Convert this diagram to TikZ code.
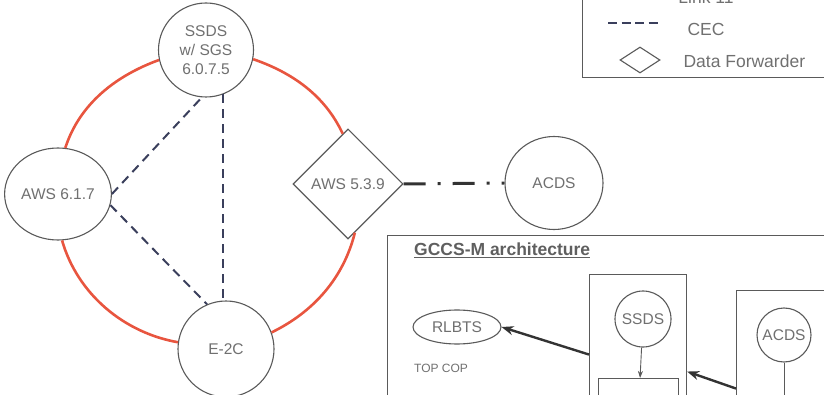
\documentclass[tikz,border=0pt]{standalone}
\usepackage{fontspec}
\setmainfont{Liberation Sans}
\usepackage{tikz}
\usetikzlibrary{arrows.meta,positioning,shapes.geometric,calc}
\definecolor{txtgray}{HTML}{707070}
\definecolor{edgegray}{HTML}{5A5A5A}
\definecolor{ringred}{HTML}{E8553F}
\definecolor{cecblue}{HTML}{3A3F5C}

\begin{document}
\begin{tikzpicture}[
  x=1pt, y=1pt,
  font=\fontsize{15.5}{19}\selectfont,
  station/.style={ellipse, draw=edgegray, fill=white, line width=1.1pt,
                  text=txtgray, align=center, inner sep=1pt},
  fwd/.style={diamond, draw=edgegray, fill=white, line width=1.1pt,
              text=txtgray, inner sep=0pt, aspect=1},
  frame/.style={draw=edgegray, line width=1.1pt, inner sep=0pt},
  ring/.style={draw=ringred, line width=2.6pt, looseness=0.92},
  cec/.style={draw=cecblue, line width=2pt, dash pattern=on 9pt off 6pt},
  link/.style={draw=black!80, line width=3pt, dash pattern=on 22pt off 12pt on 3pt off 12pt},
  flow/.style={-{Stealth[length=12pt,width=9pt]}, line width=2.4pt, draw=black!80},
  lbl/.style={text=txtgray, font=\fontsize{17.5}{20}\selectfont}
]
\useasboundingbox (0,0) rectangle (824,-395);
\clip (0,0) rectangle (824,-395);

% ring of stations
\node[station, minimum width=95pt, minimum height=94pt] (ssds)   at (206,-50)  {SSDS\\w/ SGS\\6.0.7.5};
\node[station, minimum width=100pt, minimum height=92pt] (aws617) at (58,-194)  {AWS 6.1.7};
\node[station, minimum width=96pt, minimum height=96pt] (e2c)    at (226,-349) {E-2C};
\node[fwd, minimum width=110pt, minimum height=110pt]   (aws539) at (348,-184) {AWS 5.3.9};
\node[station, minimum width=98pt, minimum height=93pt] (acds)   at (554,-183) {ACDS};

\draw[ring] (ssds.192) to[out=200, in=72] (aws617.81);
\draw[ring] (aws617.-85) to[out=286, in=170] (e2c.172);
\draw[ring] (e2c.20) to[out=26, in=256] (aws539.-82);
\draw[ring] (aws539.96) to[out=115, in=341] (ssds.-11);

\draw[cec] (aws617.east) -- (ssds.-95);
\draw[cec] (aws617.-12) -- (e2c.113);
\draw[cec] (ssds.-69) -- (ssds.-69 |- e2c.north);
\draw[link] (aws539.east) -- (acds.west);

% legend
\node[frame, minimum width=260pt, minimum height=100pt, anchor=south west] (legend) at (582,-78) {};
\node[lbl] (lk11) at (706,2.5) {Link 11};
\coordinate (cecA) at (608,-23);
\coordinate (cecB) at (659,-23);
\draw[cecblue, line width=2pt, dash pattern=on 9pt off 4.5pt] (cecA) -- (cecB);
\node[lbl] (ceclbl) at (706,-29) {CEC};
\node[fwd, minimum width=40pt, minimum height=26pt, aspect=1.6] (dfkey) at (640,-60) {};
\node[lbl, anchor=west] (dflbl) at (680,-61) {Data Forwarder};

% GCCS-M architecture panel
\node[frame, minimum width=460pt, minimum height=200pt, anchor=north west] (panel) at (387,-235) {};
\node[anchor=west, text=txtgray!85!black, font=\fontsize{17.5}{20}\selectfont\bfseries, inner sep=0pt] (title) at (414,-250)
  {\underline{GCCS-M architecture}};
\node[station, minimum width=88pt, minimum height=34pt] (rlbts) at (457,-327) {RLBTS};
\node[anchor=west, text=txtgray, font=\fontsize{12}{14}\selectfont, inner sep=0pt] (topcop) at (414,-368) {TOP COP};

\node[frame, minimum width=97pt, minimum height=160pt, anchor=north west] (ssdsbox) at (589,-274) {};
\node[station, circle, minimum size=56pt] (ssds2) at (643,-319) {SSDS};
\node[frame, minimum width=80pt, minimum height=60pt, anchor=north west] (ssdsunit) at (598,-378) {};
\draw[-{Stealth[length=7pt,width=5pt]}, line width=0.9pt, edgegray] (ssds2) -- (ssdsunit);

\node[frame, minimum width=120pt, minimum height=196pt, anchor=north west] (acdsbox) at (736,-290) {};
\node[station, circle, minimum size=54pt] (acds2) at (784,-335) {ACDS};
\coordinate (acdsdown) at (784,-400);
\draw[line width=0.9pt, edgegray] (acds2) -- (acdsdown);

\draw[flow] (ssdsbox.west) -- (rlbts.east);
\draw[flow] (acdsbox.west) -- ([yshift=-17pt]ssdsbox.east);
\end{tikzpicture}
\end{document}
